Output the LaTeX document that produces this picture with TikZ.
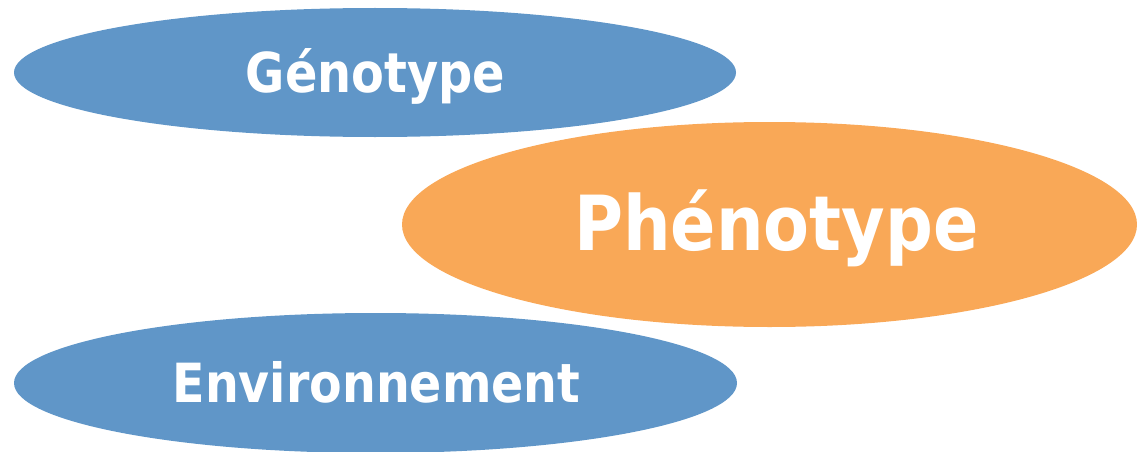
\documentclass[tikz,border=0pt]{standalone}
\usepackage{fontspec}
\newfontfamily\lblfont[FakeStretch=0.87]{DejaVu Sans}
\newfontfamily\lblfontw[FakeStretch=0.88]{DejaVu Sans}
\usetikzlibrary{shapes.geometric}
\definecolor{blueell}{RGB}{96,150,200}
\definecolor{orangeell}{RGB}{249,168,87}
\tikzset{
  ell/.style={ellipse, inner sep=0pt, outer sep=0pt},
  lbl/.style={anchor=base, text=white, inner sep=0pt, font=\lblfont\bfseries}
}
\begin{document}
\begin{tikzpicture}[x=1pt,y=1pt]
\useasboundingbox (0,0) rectangle (1137,451);
\node[ell, fill=blueell, minimum width=722pt, minimum height=129pt] (geno) at (375,378.5) {};
\node[ell, fill=orangeell, minimum width=735pt, minimum height=205pt] (pheno) at (769.5,226.5) {};
\node[ell, fill=blueell, minimum width=723pt, minimum height=140pt] (env) at (375.5,68) {};
\node[lbl, font=\lblfont\bfseries\fontsize{55}{60}\selectfont] (genoT) at (375.5,359) {Génotype};
\node[lbl, font=\lblfontw\bfseries\fontsize{76}{80}\selectfont] (phenoT) at (776.5,201) {Phénotype};
\node[lbl, font=\lblfontw\bfseries\fontsize{54}{60}\selectfont] (envT) at (376.5,49) {Environnement};
\end{tikzpicture}
\end{document}
